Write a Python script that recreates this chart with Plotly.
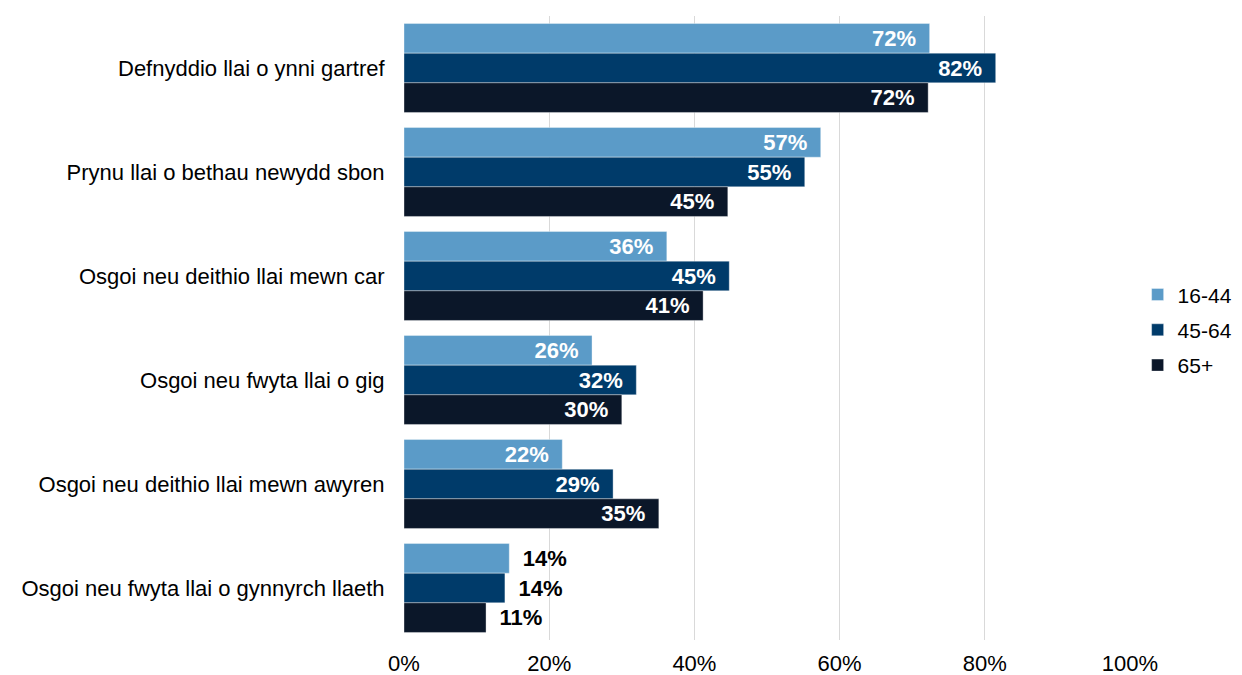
import plotly.graph_objects as go

categories = [
    "Defnyddio llai o ynni gartref",
    "Prynu llai o bethau newydd sbon",
    "Osgoi neu deithio llai mewn car",
    "Osgoi neu fwyta llai o gig",
    "Osgoi neu deithio llai mewn awyren",
    "Osgoi neu fwyta llai o gynnyrch llaeth",
]
series_names = ["16-44", "45-64", "65+"]
values_16_44 = [72.4, 57.4, 36.2, 25.9, 21.8, 14.5]
values_45_64 = [81.5, 55.2, 44.8, 32.0, 28.8, 13.9]
values_65 = [72.2, 44.6, 41.2, 30.0, 35.1, 11.3]
labels_16_44 = ["72%", "57%", "36%", "26%", "22%", "14%"]
labels_45_64 = ["82%", "55%", "45%", "32%", "29%", "14%"]
labels_65 = ["72%", "45%", "41%", "30%", "35%", "11%"]
x_ticks = [0, 20, 40, 60, 80, 100]
x_tick_labels = ["0%", "20%", "40%", "60%", "80%", "100%"]

colors = ["#5B9BC8", "#003B6A", "#0B1729"]
FONT = "Liberation Sans, Arial, sans-serif"

fig = go.Figure()
for name, vals, labs, col in zip(series_names,
                                  [values_16_44, values_45_64, values_65],
                                  [labels_16_44, labels_45_64, labels_65],
                                  colors):
    inside = [v >= 20 for v in vals]
    fig.add_trace(go.Bar(
        y=categories, x=vals, name=name, orientation="h",
        legendgroup=name,
        marker=dict(color=col, line=dict(color="rgba(255,255,255,0.6)", width=0.6)),
        text=[(l + " \u2009") if i else (" \u2009" + l) for l, i in zip(labs, inside)],
        textposition=["inside" if i else "outside" for i in inside],
        insidetextanchor="end",
        textfont=dict(family=FONT, size=22,
                      color=["white" if i else "black" for i in inside]),
        texttemplate="<b>%{text}</b>",
        cliponaxis=False,
        constraintext="none",
        hoverinfo="skip",
    ))

fig.update_layout(
    width=1242, height=675,
    barmode="group", bargap=0.145, bargroupgap=0,
    paper_bgcolor="white", plot_bgcolor="white",
    margin=dict(l=396, r=120, t=8, b=42.5, pad=0, autoexpand=False),
    font=dict(family=FONT, size=22, color="black"),
    uniformtext=dict(mode=False),
    legend=dict(x=1.0105, y=0.497, xanchor="left", yanchor="middle",
                font=dict(family=FONT, size=21, color="black"),
                itemwidth=30, tracegroupgap=5, bgcolor="rgba(0,0,0,0)"),
    showlegend=True,
)
fig.update_xaxes(range=[0, 100], tickvals=x_ticks, ticktext=x_tick_labels,
                 showgrid=True, gridcolor="#D9D9D9", gridwidth=1,
                 zeroline=False, showline=False, automargin=False,
                 ticks="outside", ticklen=4, tickcolor="rgba(0,0,0,0)",
                 tickfont=dict(family=FONT, size=22, color="black"))
fig.update_yaxes(autorange="reversed", showgrid=False, showline=False,
                 automargin=False,
                 ticks="outside", ticklen=14, tickcolor="rgba(0,0,0,0)",
                 tickfont=dict(family=FONT, size=22, color="black"))

fig.write_html("out.html")
